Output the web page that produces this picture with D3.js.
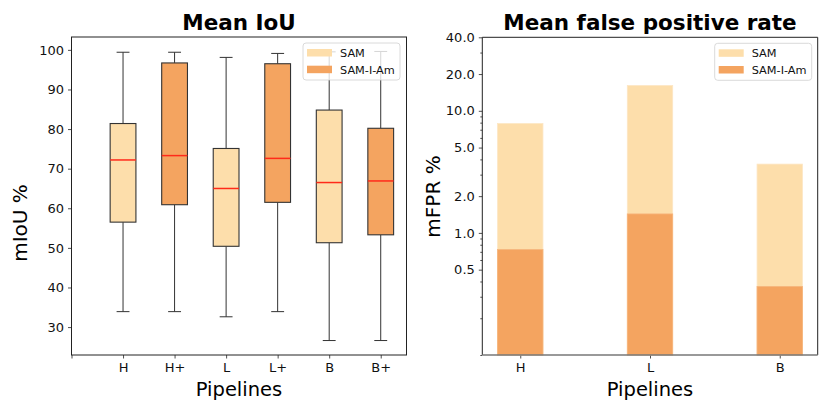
<!DOCTYPE html>
<html>
<head>
<meta charset="utf-8">
<script src="https://cdn.jsdelivr.net/npm/d3@7"></script>
<style>
  body { margin: 0; background: #fff; }
  svg { display: block; font-family: "DejaVu Sans", sans-serif; }
</style>
</head>
<body>
<script>
// --- data ---
const iouLabels = ["H", "H+", "L", "L+", "B", "B+"];
const iouModel  = ["SAM", "SAM-I-Am", "SAM", "SAM-I-Am", "SAM", "SAM-I-Am"];
const iouLow    = [33.9, 33.9, 32.6, 33.9, 26.6, 26.6];
const iouQ1     = [56.5, 60.9, 50.4, 61.5, 51.3, 53.3];
const iouMed    = [72.2, 73.3, 65.0, 72.6, 66.5, 66.9];
const iouQ3     = [81.4, 96.7, 75.1, 96.5, 84.8, 80.2];
const iouHigh   = [99.4, 99.4, 98.1, 99.1, 99.5, 99.6];
const iouTicks  = [30, 40, 50, 60, 70, 80, 90, 100];

const fprLabels = ["H", "L", "B"];
const fprSam    = [7.86, 16.1, 3.66];
const fprSamIAm = [0.73, 1.43, 0.364];
const fprTicks  = [0.5, 1, 2, 5, 10, 20, 40];
const fprLimits = [0.1, 40];

const models = ["SAM", "SAM-I-Am"];
const color = { "SAM": "#fddeab", "SAM-I-Am": "#f4a460" };

const W = 830, H = 415;
const TICK_FONT = 13;
const svg = d3.select("body").append("svg")
    .attr("width", W)
    .attr("height", H);

function styleAxis(g, size) {
    g.select(".domain").remove();
    g.selectAll(".tick line").attr("stroke", "#222").attr("stroke-width", 0.8);
    g.selectAll(".tick text").attr("fill", "#111").style("font-size", size + "px")
        .style("font-family", "DejaVu Sans, sans-serif");
}

function drawLegend(g, right, top) {
    const w = 97, h = 37;
    const lg = g.append("g").attr("transform", `translate(${right - w},${top})`);
    lg.append("rect")
        .attr("width", w).attr("height", h).attr("rx", 3)
        .attr("fill", "white").attr("fill-opacity", 0.8)
        .attr("stroke", "#d0d0d0").attr("stroke-width", 0.8);
    models.forEach((m, i) => {
        lg.append("rect")
            .attr("x", 4).attr("y", 6 + i * 16.7)
            .attr("width", 25).attr("height", 7.5)
            .attr("fill", color[m]);
        lg.append("text")
            .attr("x", 37).attr("y", 14 + i * 16.7)
            .style("font-size", "11.3px").attr("fill", "#111")
            .text(m);
    });
}

// ================= left: Mean IoU box plot =================
const A = { x0: 71.5, x1: 406.5, y0: 37, y1: 355 };
const left = svg.append("g");

const lo = d3.min(iouLow), hi = d3.max(iouHigh), pad = (hi - lo) * 0.05;
const xL = d3.scaleLinear().domain([0, iouLabels.length + 0.5]).range([A.x0, A.x1]);
const yL = d3.scaleLinear().domain([lo - pad, hi + pad]).range([A.y1, A.y0]);

left.append("g")
    .attr("transform", `translate(0,${A.y1})`)
    .call(d3.axisBottom(xL).tickValues(d3.range(0, iouLabels.length + 1))
        .tickFormat(i => i === 0 ? "" : iouLabels[i - 1])
        .tickSize(3.5).tickPadding(4))
    .call(g => styleAxis(g, TICK_FONT));

left.append("g")
    .attr("transform", `translate(${A.x0},0)`)
    .call(d3.axisLeft(yL).tickValues(iouTicks).tickSize(3.5).tickPadding(4))
    .call(g => styleAxis(g, TICK_FONT));

const boxW = xL(0.5) - xL(0), capW = xL(0.25) - xL(0);
const boxes = left.append("g").selectAll("g")
    .data(iouLabels.map((d, i) => ({
        i, model: iouModel[i], low: iouLow[i], q1: iouQ1[i], med: iouMed[i], q3: iouQ3[i], high: iouHigh[i]
    })))
    .enter().append("g")
    .attr("transform", d => `translate(${xL(d.i + 1)},0)`);

// whiskers + caps
boxes.append("line").attr("y1", d => yL(d.low)).attr("y2", d => yL(d.q1))
    .attr("stroke", "#333").attr("stroke-width", 1);
boxes.append("line").attr("y1", d => yL(d.q3)).attr("y2", d => yL(d.high))
    .attr("stroke", "#333").attr("stroke-width", 1);
boxes.append("line").attr("x1", -capW / 2).attr("x2", capW / 2)
    .attr("y1", d => yL(d.low)).attr("y2", d => yL(d.low))
    .attr("stroke", "#333").attr("stroke-width", 1);
boxes.append("line").attr("x1", -capW / 2).attr("x2", capW / 2)
    .attr("y1", d => yL(d.high)).attr("y2", d => yL(d.high))
    .attr("stroke", "#333").attr("stroke-width", 1);

boxes.append("rect")
    .attr("x", -boxW / 2).attr("width", boxW)
    .attr("y", d => yL(d.q3)).attr("height", d => yL(d.q1) - yL(d.q3))
    .attr("fill", d => color[d.model])
    .attr("stroke", "#333").attr("stroke-width", 1.1);

boxes.append("line").attr("x1", -boxW / 2).attr("x2", boxW / 2)
    .attr("y1", d => yL(d.med)).attr("y2", d => yL(d.med))
    .attr("stroke", "#ff2a1a").attr("stroke-width", 1.5);

left.append("rect")
    .attr("x", A.x0).attr("y", A.y0)
    .attr("width", A.x1 - A.x0).attr("height", A.y1 - A.y0)
    .attr("fill", "none").attr("stroke", "#222").attr("stroke-width", 1);

drawLegend(left, A.x1 - 6.5, A.y0 + 6);

left.append("text")
    .attr("x", (A.x0 + A.x1) / 2).attr("y", 29.5)
    .attr("text-anchor", "middle")
    .style("font-size", "21.5px").style("font-weight", "bold")
    .text("Mean IoU");
left.append("text")
    .attr("x", (A.x0 + A.x1) / 2).attr("y", 396)
    .attr("text-anchor", "middle")
    .style("font-size", "19.5px")
    .text("Pipelines");
left.append("text")
    .attr("transform", `translate(27,223) rotate(-90)`)
    .attr("text-anchor", "middle")
    .style("font-size", "20px")
    .text("mIoU %");

// ================= right: Mean false positive rate =================
const B = { x0: 482.3, x1: 817.7, y0: 37.3, y1: 355 };
const right = svg.append("g");

const barW = 0.35;
const xExt = [-barW / 2, fprLabels.length - 1 + barW / 2];
const xPad = (xExt[1] - xExt[0]) * 0.05;
const xR = d3.scaleLinear().domain([xExt[0] - xPad, xExt[1] + xPad]).range([B.x0, B.x1]);
const yR = d3.scaleLog().domain(fprLimits).range([B.y1, B.y0]);

const minor = yR.ticks().filter(v => !fprTicks.some(t => Math.abs(t - v) < 1e-9));

right.append("g")
    .attr("transform", `translate(${B.x0},0)`)
    .call(d3.axisLeft(yR).tickValues(minor).tickSize(2).tickFormat(""))
    .call(g => styleAxis(g, TICK_FONT));
right.append("g")
    .attr("transform", `translate(${B.x0},0)`)
    .call(d3.axisLeft(yR).tickValues(fprTicks).tickSize(3.5).tickPadding(4)
        .tickFormat(d3.format(".1f")))
    .call(g => styleAxis(g, TICK_FONT));

right.append("g")
    .attr("transform", `translate(0,${B.y1})`)
    .call(d3.axisBottom(xR).tickValues(d3.range(fprLabels.length))
        .tickFormat(i => fprLabels[i]).tickSize(3.5).tickPadding(4))
    .call(g => styleAxis(g, TICK_FONT));

const barW_px = xR(barW) - xR(0);
right.append("g").selectAll("rect")
    .data(fprSam)
    .enter().append("rect")
    .attr("x", (d, i) => xR(i) - barW_px / 2).attr("width", barW_px)
    .attr("y", d => yR(d)).attr("height", d => B.y1 - yR(d))
    .attr("fill", color["SAM"])
    .attr("stroke", "#fde6c4").attr("stroke-width", 0.8);
right.append("g").selectAll("rect")
    .data(fprSamIAm)
    .enter().append("rect")
    .attr("x", (d, i) => xR(i) - barW_px / 2).attr("width", barW_px)
    .attr("y", d => yR(d)).attr("height", d => B.y1 - yR(d))
    .attr("fill", color["SAM-I-Am"])
    .attr("stroke", "#f6b57c").attr("stroke-width", 0.8);

// frame: bottom spine a bit lighter
right.append("path")
    .attr("d", `M${B.x0},${B.y1}V${B.y0}H${B.x1}V${B.y1}`)
    .attr("fill", "none").attr("stroke", "#222").attr("stroke-width", 1);
right.append("line")
    .attr("x1", B.x0).attr("x2", B.x1).attr("y1", B.y1).attr("y2", B.y1)
    .attr("stroke", "#777").attr("stroke-width", 1.3);

drawLegend(right, B.x1 - 6, B.y0 + 6);

right.append("text")
    .attr("x", (B.x0 + B.x1) / 2).attr("y", 29.5)
    .attr("text-anchor", "middle")
    .style("font-size", "21.5px").style("font-weight", "bold")
    .text("Mean false positive rate");
right.append("text")
    .attr("x", (B.x0 + B.x1) / 2).attr("y", 396)
    .attr("text-anchor", "middle")
    .style("font-size", "19.5px")
    .text("Pipelines");
right.append("text")
    .attr("transform", `translate(440,196.5) rotate(-90)`)
    .attr("text-anchor", "middle")
    .style("font-size", "20px")
    .text("mFPR %");
</script>
</body>
</html>
